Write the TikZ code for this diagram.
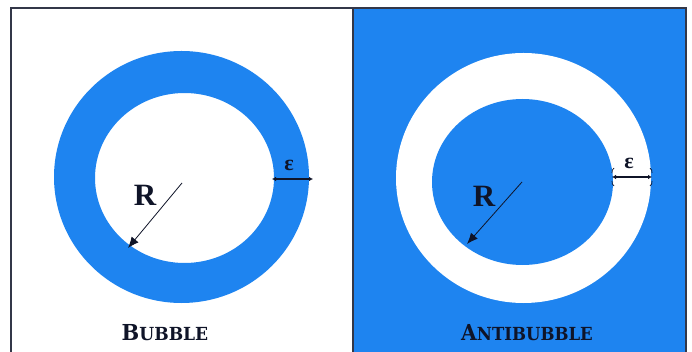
\documentclass[tikz,border=0pt]{standalone}
\usepackage{fontspec}
\setmainfont{DejaVu Serif}
\newfontfamily\rfont{Liberation Serif}
\usetikzlibrary{arrows.meta}
\definecolor{bblue}{RGB}{30,132,240}
\definecolor{ink}{RGB}{15,20,40}
\tikzset{
  frameline/.style={draw=ink!85, line width=1.6pt},
  radarrow/.style={draw=ink, line width=0.8pt, -{Latex[length=11pt,width=9pt]}},
  dimarrow/.style={draw=ink, line width=1.3pt, {Latex[length=4pt,width=4.5pt]}-{Latex[length=4pt,width=4.5pt]}},
  rlabel/.style={font=\rfont\fontsize{31}{31}\selectfont\bfseries, text=ink, inner sep=0pt},
  elabel/.style={font=\rfont\fontsize{22}{22}\selectfont\bfseries, text=ink, inner sep=0pt},
  caption/.style={font=\bfseries, text=ink, inner sep=0pt},
}
\newcommand{\fakesc}[2]{{\fontsize{22}{22}\selectfont #1}{\fontsize{18}{18}\selectfont #2}}
\begin{document}
\begin{tikzpicture}[x=1pt,y=-1pt]
\useasboundingbox (0,0) rectangle (692,352);
\fill[white] (0,0) rectangle (692,352);
% panels
\fill[bblue] (353,8) rectangle (686,352);
% bubble (left)
\fill[bblue, even odd rule] (181.5,177) ellipse [x radius=127.5, y radius=126]
  (184.5,178) ellipse [x radius=89.5, y radius=85];
% antibubble (right)
\fill[white] (523.5,178) ellipse [x radius=127.5, y radius=125];
\fill[bblue] (522.5,182) ellipse [x radius=90.5, y radius=83];
% frame
\draw[frameline] (11,352) -- (11,8) -- (686,8) -- (686,352);
\draw[frameline] (353,8) -- (353,352);
% left annotations
\coordinate (lc) at (182,183);
\coordinate (lr) at (128,248);
\draw[radarrow] (lc) -- (lr);
\node[rlabel] (lR) at (145,195) {R};
\coordinate (le1) at (272,179);
\coordinate (le2) at (313,179);
\draw[dimarrow] (le1) -- (le2);
\node[elabel] (lE) at (289,165) {ε};
\node[caption, xscale=0.95] (lcap) at (165,333) {\fakesc{B}{UBBLE}};
% right annotations
\coordinate (rc) at (522,182);
\coordinate (rr) at (467,244);
\draw[radarrow] (rc) -- (rr);
\node[rlabel] (rR) at (484,196) {R};
\coordinate (re1) at (612,177);
\coordinate (re2) at (652,177);
\draw[dimarrow] (re1) -- (re2);
\draw[draw=ink, line width=0.7pt] (614,168) to[bend right=30] (612,173)
  (614,186) to[bend left=30] (612,181)
  (650,168) to[bend left=30] (652,173)
  (650,186) to[bend right=30] (652,181);
\node[elabel] (rE) at (629,163) {ε};
\node[caption, xscale=0.92] (rcap) at (527,333) {\fakesc{A}{NTIBUBBLE}};
\end{tikzpicture}
\end{document}
